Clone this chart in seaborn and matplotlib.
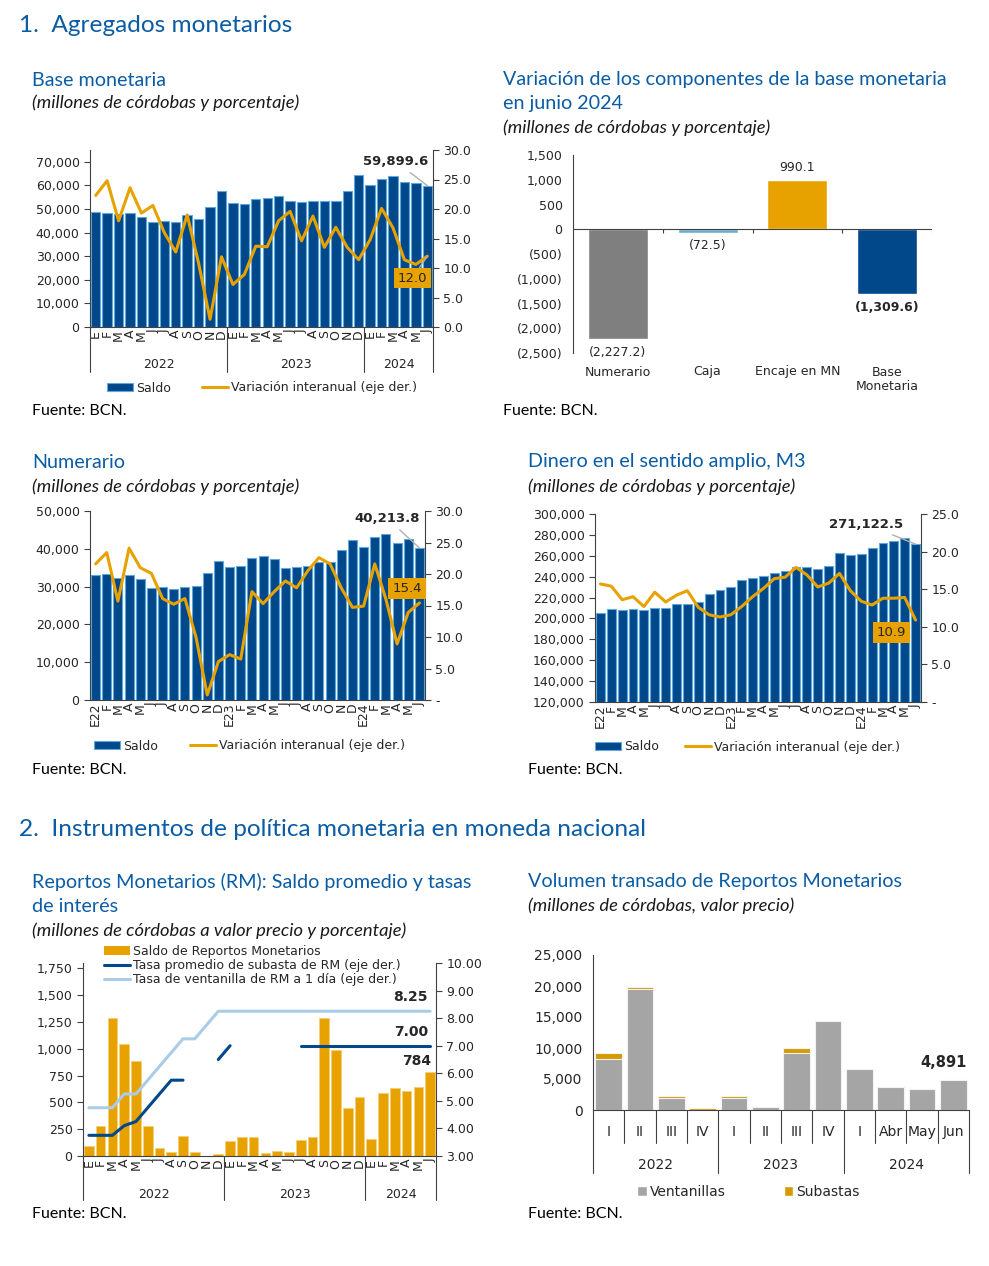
import numpy as np
import matplotlib
matplotlib.use('Agg')
from matplotlib import pyplot as plt
from matplotlib.patches import Patch
from matplotlib.lines import Line2D
from matplotlib.ticker import FuncFormatter
import seaborn as sns

# ---------------- datos ----------------
meses = ['E', 'F', 'M', 'A', 'M', 'J', 'J', 'A', 'S', 'O', 'N', 'D',
         'E', 'F', 'M', 'A', 'M', 'J', 'J', 'A', 'S', 'O', 'N', 'D',
         'E', 'F', 'M', 'A', 'M', 'J']
meses_anio = ['E22', 'F', 'M', 'A', 'M', 'J', 'J', 'A', 'S', 'O', 'N', 'D',
              'E23', 'F', 'M', 'A', 'M', 'J', 'J', 'A', 'S', 'O', 'N', 'D',
              'E24', 'F', 'M', 'A', 'M', 'J']
anios = ['2022', '2023', '2024']

base_saldo = [48900, 48500, 47800, 48200, 46600, 44600, 45100, 44400, 47300, 45600, 50700, 57600,
              52500, 52300, 54300, 54800, 55300, 53600, 53000, 53600, 53300, 53300, 57600, 64300,
              60000, 62700, 63900, 61300, 61200, 59899.6]
base_var = [22.3, 24.8, 18.0, 23.6, 19.3, 20.6, 16.0, 12.7, 19.0, 10.8, 1.3, 11.9,
            7.2, 8.9, 13.7, 13.6, 18.0, 19.6, 14.6, 18.8, 13.5, 16.9, 13.5, 11.4,
            14.8, 20.1, 16.8, 11.4, 10.6, 12.0]

componentes = ['Numerario', 'Caja', 'Encaje en MN', 'Base\nMonetaria']
componentes_var = [-2227.2, -72.5, 990.1, -1309.6]

num_saldo = [33000, 33400, 32200, 33200, 31900, 29500, 29800, 29300, 29800, 30200, 33700, 36900,
             35300, 35500, 37500, 38100, 37200, 35000, 35100, 35400, 36400, 36600, 39600, 42200,
             40400, 43200, 43800, 41500, 42500, 40213.8]
num_var = [21.6, 23.4, 15.7, 24.1, 21.0, 20.1, 16.1, 15.2, 16.1, 9.9, 0.8, 6.1,
           7.2, 6.5, 17.2, 15.3, 17.2, 18.9, 17.8, 20.5, 22.6, 21.6, 17.8, 14.7,
           14.9, 21.6, 16.0, 8.9, 13.9, 15.4]

m3_saldo = [205000, 208800, 207800, 209400, 208200, 209800, 210400, 213600, 214300, 215400, 223600, 227000,
            229800, 236800, 238800, 240900, 243200, 245400, 249500, 249300, 247600, 250500, 262400, 261000,
            261700, 267700, 271900, 274400, 277000, 271122.5]
m3_var = [15.7, 15.4, 13.6, 14.0, 12.7, 14.6, 13.3, 14.2, 14.8, 12.6, 11.6, 11.3,
          11.6, 12.7, 14.0, 15.1, 16.4, 16.6, 17.9, 16.9, 15.3, 15.8, 17.1, 14.8,
          13.4, 12.9, 13.8, 13.8, 13.9, 10.9]

rm_saldo = [96, 280, 1284, 1041, 886, 280, 78, 40, 186, 40, 0, 22,
            140, 174, 174, 31, 50, 37, 149, 174, 1284, 992, 451, 553,
            158, 590, 637, 609, 646, 784]
rm_subasta = [3.75, 3.75, 3.75, 4.10, 4.25, 4.75, 5.25, 5.75, 5.75, np.nan, np.nan, 6.50,
              7.00, np.nan, np.nan, np.nan, np.nan, np.nan, 7.00, 7.00, 7.00, 7.00, 7.00, 7.00,
              7.00, 7.00, 7.00, 7.00, 7.00, 7.00]
rm_ventanilla = [4.75, 4.75, 4.75, 5.25, 5.25, 5.75, 6.25, 6.75, 7.25, 7.25, 7.75, 8.25,
                 8.25, 8.25, 8.25, 8.25, 8.25, 8.25, 8.25, 8.25, 8.25, 8.25, 8.25, 8.25,
                 8.25, 8.25, 8.25, 8.25, 8.25, 8.25]

vol_periodos = ['I', 'II', 'III', 'IV', 'I', 'II', 'III', 'IV', 'I', 'Abr', 'May', 'Jun']
vol_ventanillas = [8200, 19550, 1900, 50, 2000, 550, 9200, 14400, 6650, 3700, 3450, 4891]
vol_subastas = [1000, 350, 300, 300, 200, 0, 850, 0, 0, 0, 0, 0]

# ---------------- estilo ----------------
AZUL = '#00488a'
BORDE = '#5fa8dc'
NARANJA = '#e8a200'
GRIS = '#7f7f7f'
CELESTE = '#6aaed6'
AZUL_CLARO = '#a9cde6'
GRIS_VOL = '#a5a5a5'
ORO = '#d49a00'
TITULO = '#0a5ca4'
EJE = '#404040'
FS = 9

sns.set_style('white')
plt.rcParams['font.family'] = ['DejaVu Sans']
plt.rcParams['axes.edgecolor'] = EJE
plt.rcParams['axes.linewidth'] = 0.8

W, H = 989, 1266
fig = plt.figure(figsize=(W / 100, H / 100), dpi=100)


def rect(l, t, r, b):
    return [l / W, 1 - b / H, (r - l) / W, (b - t) / H]


def texto(x, y, s, **kw):
    fig.text(x / W, 1 - y / H, s, va='center', ha='left', **kw)


def encabezado(x, y, s):
    texto(x, y, s, fontsize=17.6, color=TITULO, family='Lato')


def titulo(x, y, s):
    texto(x, y, s, fontsize=14.2, color=TITULO, family='Lato')


def subtitulo(x, y, s):
    texto(x, y, s, fontsize=13.2, style='italic', family='Lato', color='#1a1a1a')


def fuente(x, y):
    texto(x, y, 'Fuente: BCN.', fontsize=11.5, family='Lato', color='black')


fmt_miles = FuncFormatter(lambda v, p: f'{v:,.0f}')
fmt_paren = FuncFormatter(lambda v, p: f'({abs(v):,.0f})' if v < 0 else f'{v:,.0f}')
fmt_1 = FuncFormatter(lambda v, p: f'{v:.1f}')
fmt_guion = FuncFormatter(lambda v, p: '-' if abs(v) < 1e-9 else f'{v:.1f}')
fmt_2 = FuncFormatter(lambda v, p: f'{v:.2f}')


def separadores(ax, posiciones, largo):
    trans = ax.get_xaxis_transform()
    for p in posiciones:
        ax.plot([p, p], [0, -largo], transform=trans, clip_on=False, color=EJE, lw=0.8)


def rotulos_anio(ax, centros, y):
    trans = ax.get_xaxis_transform()
    for anio, c in zip(anios, centros):
        ax.text(c, y, anio, transform=trans, ha='center', va='center', fontsize=FS)


def panel_mensual(ax, saldo, var, ylim, yticks, ylim2, yticks2, fmt2, etiquetas, menores):
    x = np.arange(len(saldo))
    sns.barplot(x=x, y=saldo, color=AZUL, edgecolor=BORDE, linewidth=0.8,
                saturation=1, width=0.82, ax=ax)
    ax2 = ax.twinx()
    sns.lineplot(x=x, y=var, color=NARANJA, linewidth=2.2, ax=ax2)
    ax.set_ylim(*ylim)
    ax.set_yticks(yticks)
    ax.yaxis.set_major_formatter(fmt_miles)
    ax2.set_ylim(*ylim2)
    ax2.set_yticks(yticks2)
    ax2.yaxis.set_major_formatter(fmt2)
    ax.set_xlim(-0.5, len(saldo) - 0.5)
    ax.set_xticks(x)
    ax.set_xticklabels(etiquetas, rotation=90, fontsize=FS)
    ax.tick_params(axis='x', length=0, pad=2)
    if menores:
        ax.set_xticks(np.arange(-0.5, len(saldo), 1), minor=True)
        ax.tick_params(axis='x', which='minor', length=4, color=EJE)
    ax.tick_params(axis='y', length=4, labelsize=FS, color=EJE)
    ax2.tick_params(axis='y', length=4, labelsize=FS, color=EJE)
    for a in (ax, ax2):
        a.set_xlabel('')
        a.set_ylabel('')
        a.spines['top'].set_visible(False)
    ax.spines['right'].set_visible(False)
    ax2.spines['left'].set_visible(False)
    ax2.spines['bottom'].set_visible(False)
    return ax2


def leyenda_saldo(x, y, espacio):
    handles = [Patch(facecolor=AZUL, edgecolor=BORDE, linewidth=0.8),
               Line2D([], [], color=NARANJA, lw=2.2)]
    fig.legend(handles, ['Saldo', 'Variación interanual (eje der.)'], loc='center left',
               bbox_to_anchor=(x / W, 1 - y / H), ncol=2, frameon=False, fontsize=FS,
               handlelength=2.1, handleheight=0.65, handletextpad=0.2, columnspacing=espacio,
               borderpad=0, borderaxespad=0)


def caja(ax, x, y, s):
    ax.text(x, y, s, ha='center', va='center', fontsize=FS + 0.5,
            bbox=dict(boxstyle='square,pad=0.3', fc=NARANJA, ec='none'))


# ---------------- encabezados ----------------
encabezado(19, 25, '1.  Agregados monetarios')
encabezado(19, 830, '2.  Instrumentos de política monetaria en moneda nacional')

# ---------------- Base monetaria ----------------
titulo(32, 80, 'Base monetaria')
subtitulo(32, 103, '(millones de córdobas y porcentaje)')
fuente(32, 411)
ax1 = fig.add_axes(rect(90, 150, 433, 327))
ax1b = panel_mensual(ax1, base_saldo, base_var, (0, 75000), np.arange(0, 70001, 10000),
                     (0, 30), np.arange(0, 30.1, 5), fmt_1, meses, False)
separadores(ax1, [-0.5, 11.5, 23.5, 29.5], 0.255)
rotulos_anio(ax1, [5.5, 17.5, 26.5], -0.21)
ax1.annotate(f'{base_saldo[-1]:,.1f}', xy=(29, base_saldo[-1]), xytext=(26.2, 70300),
             ha='center', va='center', fontsize=FS + 0.5, fontweight='bold',
             arrowprops=dict(arrowstyle='-', color='#b0b0b0', lw=1, shrinkA=2, shrinkB=0))
ax1b.annotate(f'{base_var[-1]:.1f}', xy=(29, base_var[-1]), xytext=(27.7, 8.3),
              ha='center', va='center', fontsize=FS + 0.5,
              bbox=dict(boxstyle='square,pad=0.3', fc=NARANJA, ec='none'),
              arrowprops=dict(arrowstyle='-', color='#b0b0b0', lw=1, shrinkA=0, shrinkB=0))
leyenda_saldo(107, 388, 2.5)

# ---------------- Variacion de componentes ----------------
titulo(503, 80, 'Variación de los componentes de la base monetaria')
titulo(503, 104, 'en junio 2024')
subtitulo(503, 128, '(millones de córdobas y porcentaje)')
fuente(503, 411)
ax2 = fig.add_axes(rect(573, 155, 932, 353))
sns.barplot(x=componentes, y=componentes_var, hue=componentes,
            palette=[GRIS, CELESTE, NARANJA, AZUL], legend=False, saturation=1,
            width=0.67, ax=ax2)
ax2.set_xlim(-0.5, 3.5)
ax2.set_ylim(-2500, 1500)
ax2.set_yticks(np.arange(-2500, 1501, 500))
ax2.yaxis.set_major_formatter(fmt_paren)
ax2.axhline(0, color=EJE, lw=0.8)
ax2.vlines([0.5, 1.5, 2.5, 3.5], -80, 0, color=EJE, lw=0.8)
for s in ['top', 'right', 'bottom']:
    ax2.spines[s].set_visible(False)
ax2.tick_params(axis='x', length=0, pad=9, labelsize=FS)
ax2.tick_params(axis='y', length=4, labelsize=FS, color=EJE)
ax2.set_xlabel('')
ax2.set_ylabel('')
for i, v in enumerate(componentes_var):
    if v >= 0:
        ax2.text(i, v + 130, f'{v:,.1f}', ha='center', va='bottom', fontsize=FS)
    else:
        ax2.text(i, v - 130, f'({abs(v):,.1f})', ha='center', va='top', fontsize=FS,
                 fontweight='bold' if i == 3 else 'normal')

# ---------------- Numerario ----------------
titulo(32, 462, 'Numerario')
subtitulo(32, 487, '(millones de córdobas y porcentaje)')
fuente(32, 770)
ax3 = fig.add_axes(rect(90, 511, 425, 700))
ax3b = panel_mensual(ax3, num_saldo, num_var, (0, 50000), np.arange(0, 50001, 10000),
                     (0, 30), np.arange(0, 30.1, 5), fmt_guion, meses_anio, True)
ax3.annotate(f'{num_saldo[-1]:,.1f}', xy=(29, num_saldo[-1]), xytext=(26.1, 48100),
             ha='center', va='center', fontsize=FS + 0.5, fontweight='bold',
             arrowprops=dict(arrowstyle='-', color='#b0b0b0', lw=1, shrinkA=2, shrinkB=0))
caja(ax3b, 27.9, 17.7, f'{num_var[-1]:.1f}')
leyenda_saldo(94, 746, 2.6)

# ---------------- M3 ----------------
titulo(528, 462, 'Dinero en el sentido amplio, M3')
subtitulo(528, 487, '(millones de córdobas y porcentaje)')
fuente(528, 770)
ax4 = fig.add_axes(rect(595, 514, 921, 702))
ax4b = panel_mensual(ax4, m3_saldo, m3_var, (120000, 300000), np.arange(120000, 300001, 20000),
                     (0, 25), np.arange(0, 25.1, 5), fmt_guion, meses_anio, True)
ax4.annotate(f'{m3_saldo[-1]:,.1f}', xy=(29, m3_saldo[-1]), xytext=(24.4, 290400),
             ha='center', va='center', fontsize=FS + 0.5, fontweight='bold',
             arrowprops=dict(arrowstyle='-', color='#b0b0b0', lw=1, shrinkA=2, shrinkB=0))
caja(ax4b, 26.8, 9.2, f'{m3_var[-1]:.1f}')
leyenda_saldo(595, 747, 2.1)

# ---------------- Reportos monetarios ----------------
titulo(32, 882, 'Reportos Monetarios (RM): Saldo promedio y tasas')
titulo(32, 907, 'de interés')
subtitulo(32, 931, '(millones de córdobas a valor precio y porcentaje)')
fuente(32, 1214)
ax5 = fig.add_axes(rect(83, 963, 436, 1156))
x30 = np.arange(30)
sns.barplot(x=x30, y=rm_saldo, color=NARANJA, edgecolor='#f3cf7a', linewidth=0.6,
            saturation=1, width=0.82, ax=ax5)
ax5b = ax5.twinx()
sns.lineplot(x=x30, y=rm_ventanilla, color=AZUL_CLARO, linewidth=2.2, ax=ax5b)
sub = np.array(rm_subasta)
ok = ~np.isnan(sub)
tramos = np.split(x30[ok], np.where(np.diff(x30[ok]) > 1)[0] + 1)
for t in tramos:
    sns.lineplot(x=t, y=sub[t], color=AZUL, linewidth=2.2, ax=ax5b)
ax5.set_ylim(0, 1800)
ax5.set_yticks(np.arange(0, 1751, 250))
ax5.yaxis.set_major_formatter(fmt_miles)
ax5b.set_ylim(3, 10)
ax5b.set_yticks(np.arange(3, 10.01, 1))
ax5b.yaxis.set_major_formatter(fmt_2)
ax5.set_xlim(-0.5, 29.5)
ax5.set_xticks(x30)
ax5.set_xticklabels(meses, rotation=90, fontsize=FS)
ax5.tick_params(axis='x', length=0, pad=2)
ax5.tick_params(axis='y', length=4, labelsize=FS, color=EJE)
ax5b.tick_params(axis='y', length=4, labelsize=FS, color=EJE)
for a in (ax5, ax5b):
    a.set_xlabel('')
    a.set_ylabel('')
    a.spines['top'].set_visible(False)
ax5.spines['right'].set_visible(False)
ax5b.spines['left'].set_visible(False)
ax5b.spines['bottom'].set_visible(False)
separadores(ax5, [-0.5, 11.5, 23.5, 29.5], 0.23)
rotulos_anio(ax5, [5.5, 17.5, 26.5], -0.2)
ax5b.text(28.8, 8.76, f'{rm_ventanilla[-1]:.2f}', ha='right', va='center',
          fontsize=FS + 1, fontweight='bold')
ax5b.text(28.8, 7.48, f'{rm_subasta[-1]:.2f}', ha='right', va='center',
          fontsize=FS + 1, fontweight='bold')
ax5.text(29.1, 890, f'{rm_saldo[-1]:,}', ha='right', va='center',
         fontsize=FS + 1, fontweight='bold')
handles5 = [Patch(facecolor=NARANJA, edgecolor='none'),
            Line2D([], [], color=AZUL, lw=2.2),
            Line2D([], [], color=AZUL_CLARO, lw=2.2)]
fig.legend(handles5, ['Saldo de Reportos Monetarios', 'Tasa promedio de subasta de RM (eje der.)',
                      'Tasa de ventanilla de RM a 1 día (eje der.)'],
           loc='upper left', bbox_to_anchor=(104 / W, 1 - 945 / H), ncol=1, frameon=False,
           fontsize=FS, handlelength=2.1, handleheight=0.65, handletextpad=0.2,
           labelspacing=0.08, borderpad=0, borderaxespad=0)

# ---------------- Volumen transado ----------------
titulo(528, 882, 'Volumen transado de Reportos Monetarios')
subtitulo(528, 906, '(millones de córdobas, valor precio)')
fuente(528, 1214)
ax6 = fig.add_axes(rect(593, 955, 969, 1110))
x12 = np.arange(12)
vol_total = np.array(vol_ventanillas) + np.array(vol_subastas)
sns.barplot(x=x12, y=vol_total, color=ORO, edgecolor='#f2f2f2', linewidth=0.8,
            saturation=1, width=0.85, ax=ax6)
sns.barplot(x=x12, y=vol_ventanillas, color=GRIS_VOL, edgecolor='#f2f2f2', linewidth=0.8,
            saturation=1, width=0.85, ax=ax6)
ax6.set_xlim(-0.5, 11.5)
ax6.set_ylim(0, 25000)
ax6.set_yticks(np.arange(0, 25001, 5000))
ax6.yaxis.set_major_formatter(fmt_miles)
ax6.set_xticks(x12)
ax6.set_xticklabels(vol_periodos, fontsize=FS + 1)
ax6.tick_params(axis='x', length=0, pad=11)
ax6.tick_params(axis='y', length=4, labelsize=FS + 1, color=EJE)
ax6.set_xlabel('')
ax6.set_ylabel('')
for s in ['top', 'right']:
    ax6.spines[s].set_visible(False)
separadores(ax6, [0.5, 1.5, 2.5, 4.5, 5.5, 6.5, 8.5, 9.5, 10.5], 0.215)
separadores(ax6, [-0.5, 3.5, 7.5, 11.5], 0.405)
trans6 = ax6.get_xaxis_transform()
for anio, c in zip(anios, [1.5, 5.5, 9.5]):
    ax6.text(c, -0.355, anio, transform=trans6, ha='center', va='center', fontsize=FS + 1)
ax6.text(10.7, 7600, f'{vol_total[-1]:,}', ha='center', va='center',
         fontsize=FS + 1.5, fontweight='bold')
handles6 = [Patch(facecolor=GRIS_VOL), Patch(facecolor=ORO)]
fig.legend(handles6, ['Ventanillas', 'Subastas'], loc='center left',
           bbox_to_anchor=(637 / W, 1 - 1192 / H), ncol=2, frameon=False, fontsize=FS + 1,
           handlelength=0.7, handleheight=0.7, handletextpad=0.2, columnspacing=4.2,
           borderpad=0, borderaxespad=0)

fig.savefig('out.png', dpi=100)
